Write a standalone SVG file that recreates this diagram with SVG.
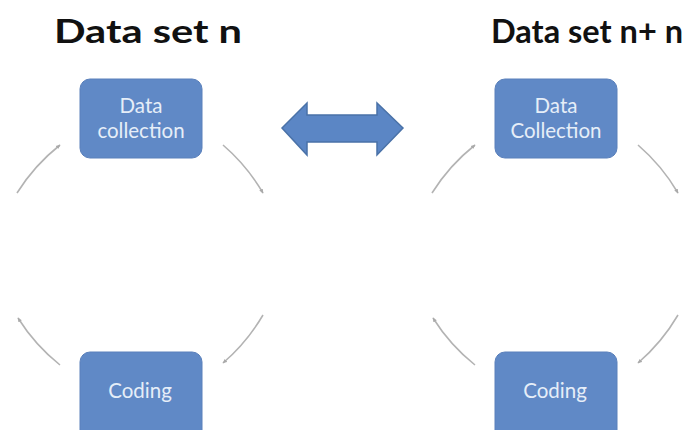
<svg xmlns="http://www.w3.org/2000/svg" width="690" height="430" viewBox="0 0 690 430">
  <defs>
    <marker id="tip" viewBox="0 0 10 10" refX="8" refY="5" markerWidth="5" markerHeight="5" orient="auto" markerUnits="userSpaceOnUse">
      <path d="M0,1 L9,5 L0,9 Z" fill="#a9a9a9"/>
    </marker>
    <style>
      .title { font-family: Lato, "Noto Sans", "Liberation Sans", sans-serif; font-weight: bold; font-size: 33px; fill: #111; }
      .box { fill: #6089c6; stroke: #5a80bb; stroke-width: 1; }
      .lbl { font-family: Lato, "Noto Sans", "Liberation Sans", sans-serif; font-size: 20.5px; fill: #e6eef8; text-anchor: middle; }
      .arc { fill: none; stroke: #b3b3b3; stroke-width: 1.6; marker-end: url(#tip); }
      .dbl { fill: #5b86c5; stroke: #4a72a8; stroke-width: 1.5; }
    </style>
  </defs>

  <rect width="690" height="430" fill="#ffffff"/>

  <!-- cycle titles -->
  <text class="title" x="54" y="43" textLength="188" lengthAdjust="spacingAndGlyphs">Data set n</text>
  <text class="title" x="491" y="43" textLength="192" lengthAdjust="spacingAndGlyphs">Data set n+ n</text>

  <!-- left cycle -->
  <g id="collect-a">
    <rect class="box" x="80" y="79" width="122" height="79" rx="10"/>
    <text class="lbl" x="141" y="112.5">Data</text>
    <text class="lbl" x="141" y="138">collection</text>
  </g>
  <g id="coding-a">
    <rect class="box" x="80" y="352" width="122" height="90" rx="10"/>
    <text class="lbl" x="140" y="398">Coding</text>
  </g>

  <!-- right cycle -->
  <g id="collect-b">
    <rect class="box" x="495" y="79" width="122" height="79" rx="10"/>
    <text class="lbl" x="556" y="112.5">Data</text>
    <text class="lbl" x="556" y="138">Collection</text>
  </g>
  <g id="coding-b">
    <rect class="box" x="495" y="352" width="122" height="90" rx="10"/>
    <text class="lbl" x="555" y="398">Coding</text>
  </g>

  <!-- link between the two data sets -->
  <g id="link">
    <path class="dbl" d="M282,128 L307,103 L307,115 L377,115 L377,103 L403,128 L377,155 L377,142 L307,142 L307,155 Z"/>
  </g>

  <!-- cycle connectors: shallow arcs -->
  <g id="connectors">
    <path class="arc" d="M17,193 A190,190 0 0 1 60,145"/>
    <path class="arc" d="M223,145 A190,190 0 0 1 263,193"/>
    <path class="arc" d="M263,315 A190,190 0 0 1 223,363"/>
    <path class="arc" d="M60,365 A190,190 0 0 1 18,318"/>

    <path class="arc" d="M432,193 A190,190 0 0 1 475,145"/>
    <path class="arc" d="M638,145 A190,190 0 0 1 678,193"/>
    <path class="arc" d="M678,315 A190,190 0 0 1 638,363"/>
    <path class="arc" d="M475,365 A190,190 0 0 1 433,318"/>
  </g>
</svg>
